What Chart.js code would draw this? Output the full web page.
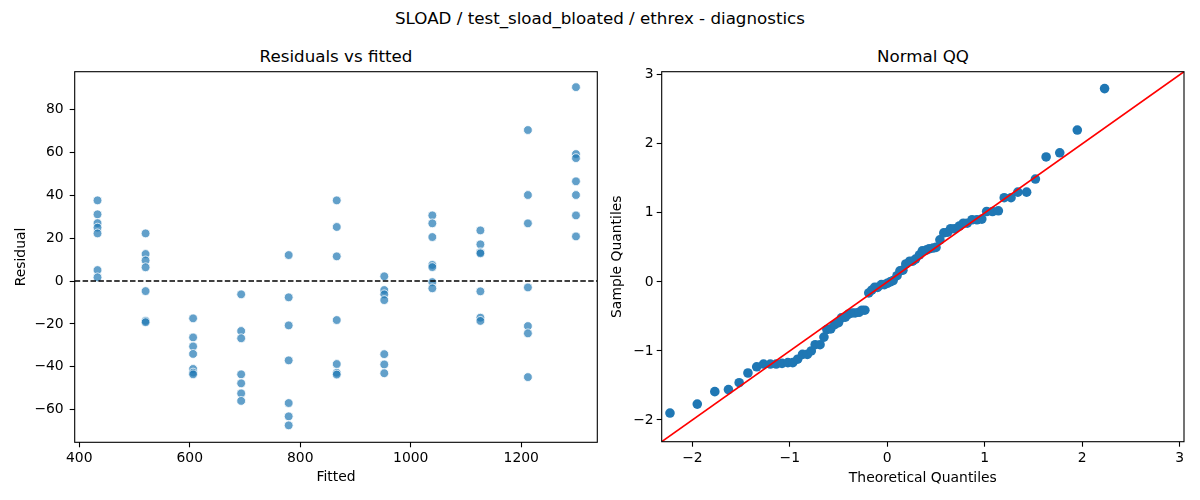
<!DOCTYPE html>
<html>
<head>
<meta charset="utf-8">
<script src="https://cdn.jsdelivr.net/npm/chart.js@4.4.0/dist/chart.umd.min.js"></script>
<style>
  html, body { margin: 0; padding: 0; background: #fff; }
  #fig { position: relative; width: 1200px; height: 500px; font-family: "DejaVu Sans", sans-serif; color: #000; }
  canvas { position: absolute; top: 0; }
  .ttl { position: absolute; font-size: 16.7px; line-height: 20px; height: 20px; white-space: nowrap; transform: translateX(-50%); }
</style>
</head>
<body>
<div id="fig">
  <div class="ttl" style="left:600px; top:8px;">SLOAD / test_sload_bloated / ethrex - diagnostics</div>
  <div class="ttl" style="left:336px; top:46px;">Residuals vs fitted</div>
  <div class="ttl" style="left:923px; top:46px;">Normal QQ</div>
  <canvas id="resid" width="605" height="500" style="left:0"></canvas>
  <canvas id="qq" width="595" height="500" style="left:605px"></canvas>
</div>

<script>
// fitted value of each group and the residuals
const fittedLevels = [433, 520, 606, 693, 779, 866, 952, 1039, 1126, 1212, 1299];
const residualsByLevel = [
  [37.6, 31.1, 27.0, 24.9, 22.2, 5.1, 1.7],
  [22.2, 12.6, 9.6, 6.4, -4.7, -18.6, -19.2],
  [-17.4, -26.3, -30.5, -34.0, -41.0, -42.7, -43.5],
  [-6.2, -23.3, -26.7, -43.5, -47.7, -52.4, -55.9],
  [12.1, -7.6, -20.7, -37.0, -56.9, -63.1, -67.3],
  [37.6, 25.2, 11.5, -18.2, -38.7, -42.8, -43.6],
  [2.2, -4.2, -6.2, -8.9, -34.1, -38.9, -43.0],
  [30.6, 26.9, 20.5, 7.5, 6.5, -0.5, -3.4],
  [23.6, 17.1, 13.4, 12.9, -4.8, -17.1, -18.6],
  [70.4, 40.1, 26.9, -3.0, -21.0, -24.4, -44.8],
  [90.4, 59.2, 57.3, 46.5, 40.1, 30.6, 20.8]
];
const residXTicks = [400, 600, 800, 1000, 1200];
const residYTicks = [-60, -40, -20, 0, 20, 40, 60, 80];

// QQ panel
const theoreticalQ = [
  -2.23, -1.95, -1.77, -1.63, -1.52, -1.43, -1.34, -1.27, -1.20, -1.14,
  -1.08, -1.02, -0.97, -0.92, -0.87, -0.82, -0.78, -0.74, -0.69, -0.65,
  -0.62, -0.58, -0.54, -0.50, -0.47, -0.43, -0.40, -0.36, -0.33, -0.29,
  -0.26, -0.23, -0.19, -0.16, -0.13, -0.10, -0.06, -0.03, 0.00, 0.03,
  0.06, 0.10, 0.13, 0.16, 0.19, 0.23, 0.26, 0.29, 0.33, 0.36,
  0.40, 0.43, 0.47, 0.50, 0.54, 0.58, 0.62, 0.65, 0.69, 0.74,
  0.78, 0.82, 0.87, 0.92, 0.97, 1.02, 1.08, 1.14, 1.20, 1.27,
  1.34, 1.43, 1.52, 1.63, 1.77, 1.95, 2.23
];
const sampleQ = [
  -1.90, -1.77, -1.59, -1.56, -1.46, -1.32, -1.23, -1.19, -1.19, -1.19,
  -1.18, -1.17, -1.17, -1.12, -1.05, -1.05, -1.00, -0.91, -0.91, -0.80,
  -0.69, -0.68, -0.62, -0.59, -0.52, -0.51, -0.47, -0.45, -0.45, -0.44,
  -0.41, -0.41, -0.16, -0.12, -0.08, -0.08, -0.04, -0.04, -0.02, 0.00,
  0.02, 0.09, 0.16, 0.17, 0.26, 0.30, 0.30, 0.33, 0.39, 0.45,
  0.46, 0.48, 0.49, 0.50, 0.61, 0.71, 0.72, 0.77, 0.77, 0.81,
  0.85, 0.85, 0.90, 0.90, 0.91, 1.02, 1.02, 1.03, 1.22, 1.22,
  1.30, 1.30, 1.49, 1.81, 1.87, 2.20, 2.80
];
const qqTicks = [-2, -1, 0, 1, 2, 3];

const residRange = { xMin: 391.7, xMax: 1337.6, yMin: -75.2, yMax: 97.6 };
const qqRange = { min: -2.315, max: 3.045 };

Chart.defaults.font.family = '"DejaVu Sans", sans-serif';
Chart.defaults.font.size = 13.9;
Chart.defaults.color = '#000';

const minus = v => String(v).replace('-', '\u2212');

// black box around the plotting area, like matplotlib spines
const frame = {
  id: 'frame',
  afterDatasetsDraw(chart) {
    const a = chart.chartArea, c = chart.ctx;
    c.save();
    c.strokeStyle = '#000';
    c.lineWidth = 1.1;
    c.strokeRect(a.left, a.top, a.right - a.left, a.bottom - a.top);
    c.restore();
  }
};

function axis(opts) {
  return {
    type: 'linear',
    min: opts.min,
    max: opts.max,
    border: { display: false },
    grid: { display: true, drawOnChartArea: false, drawTicks: true, tickLength: 5, tickColor: '#000', tickWidth: 1.1 },
    ticks: { padding: opts.pad, callback: minus, font: { size: 13.9 } },
    afterBuildTicks: s => { s.ticks = opts.ticks.map(v => ({ value: v })); },
    afterFit: s => {
      if (opts.width) s.width = opts.width;
      if (opts.height) s.height = opts.height;
    },
    title: { display: true, text: opts.title, font: { size: 13.9 }, padding: opts.titlePad }
  };
}

const residPoints = [];
fittedLevels.forEach((f, i) => {
  residualsByLevel[i].forEach(r => residPoints.push({ x: f, y: r }));
});

new Chart(document.getElementById('resid'), {
  type: 'scatter',
  data: {
    datasets: [{
      data: [{ x: residRange.xMin, y: 0 }, { x: residRange.xMax, y: 0 }],
      showLine: true,
      borderColor: '#000',
      borderWidth: 1.4,
      borderDash: [5.5, 2.4],
      pointRadius: 0
    }, {
      data: residPoints,
      backgroundColor: 'rgba(31,119,180,0.7)',
      borderColor: '#fff',
      borderWidth: 0.8,
      pointRadius: 4.4
    }]
  },
  options: {
    responsive: false,
    animation: false,
    layout: { padding: { left: 0, right: 7.7, top: 71.7, bottom: 0 } },
    plugins: { legend: { display: false }, tooltip: { enabled: false } },
    scales: {
      x: axis({ min: residRange.xMin, max: residRange.xMax, ticks: residXTicks, pad: 3, height: 57.7,
                title: 'Fitted', titlePad: { top: 0, bottom: 14.4 } }),
      y: axis({ min: residRange.yMin, max: residRange.yMax, ticks: residYTicks, pad: 6, width: 74.7,
                title: 'Residual', titlePad: { top: 12.7, bottom: 0 } })
    }
  },
  plugins: [frame]
});

new Chart(document.getElementById('qq'), {
  type: 'scatter',
  data: {
    datasets: [{
      data: [{ x: qqRange.min, y: qqRange.min }, { x: qqRange.max, y: qqRange.max }],
      showLine: true,
      borderColor: '#ff0000',
      borderWidth: 1.6,
      pointRadius: 0
    }, {
      data: theoreticalQ.map((t, i) => ({ x: t, y: sampleQ[i] })),
      backgroundColor: '#1f77b4',
      borderWidth: 0,
      pointRadius: 4.8
    }]
  },
  options: {
    responsive: false,
    animation: false,
    layout: { padding: { left: 0, right: 16, top: 71.7, bottom: 0 } },
    plugins: { legend: { display: false }, tooltip: { enabled: false } },
    scales: {
      x: axis({ min: qqRange.min, max: qqRange.max, ticks: qqTicks, pad: 3, height: 58.3,
                title: 'Theoretical Quantiles', titlePad: { top: 0, bottom: 13.7 } }),
      y: axis({ min: qqRange.min, max: qqRange.max, ticks: qqTicks, pad: 3, width: 56.7,
                title: 'Sample Quantiles', titlePad: { top: 4, bottom: 0 } })
    }
  },
  plugins: [frame]
});
</script>
</body>
</html>
